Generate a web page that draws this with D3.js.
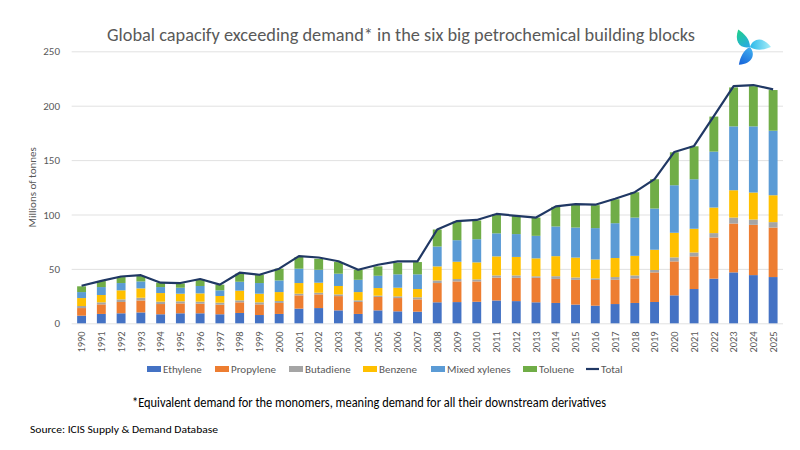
<!DOCTYPE html>
<html lang="en">
<head>
<meta charset="UTF-8">
<title>Global capacity exceeding demand</title>
<script src="https://d3js.org/d3.v7.min.js"></script>
<style>
  body { margin: 0; background: #fff; }
  svg { display: block; font-family: Carlito, Lato, "Open Sans", sans-serif; }
</style>
</head>
<body>
<div id="chart"></div>
<script>

// values, million tonnes
const years = ["1990","1991","1992","1993","1994","1995","1996","1997","1998","1999",
  "2000","2001","2002","2003","2004","2005","2006","2007","2008","2009",
  "2010","2011","2012","2013","2014","2015","2016","2017","2018","2019",
  "2020","2021","2022","2023","2024","2025"];

const ethylene  = [7, 8.6, 9.2, 10, 8.3, 9.2, 9.2, 8.3, 9.5, 7.6,
  8.6, 13.5, 14, 11.9, 8.6, 11.9, 11, 10.7, 19.3, 19.5,
  19.8, 21, 20.4, 19.3, 18.7, 17.2, 16.2, 17.7, 18.7, 19.6,
  25.7, 31.5, 41, 46.8, 44.3, 42.5];
const propylene = [7, 8.8, 10.4, 11, 9.4, 9.1, 8.8, 8.8, 9.8, 9.8,
  10.1, 12.2, 12.6, 13.1, 11, 12.3, 12.2, 11.3, 17.7, 19,
  18.7, 21, 21.4, 22.5, 22.1, 22.7, 23.6, 22.3, 22.6, 27.2,
  31.2, 30, 37.9, 44.9, 46.2, 45.5];
const butadiene = [1.9, 1.9, 2.4, 2.5, 2.2, 1.9, 1.9, 1.9, 1.8, 1.9,
  1.8, 1.5, 1.5, 1.6, 1.5, 1.2, 1.6, 1.9, 2.4, 2.2,
  1.9, 2, 2.2, 1.4, 2.5, 2.2, 1.5, 2.5, 2.7, 2.2,
  3.7, 3.6, 4, 5.5, 4.9, 5];
const benzene   = [7.3, 6.7, 8.3, 8.6, 7.9, 7, 7.6, 6.1, 8.9, 7.9,
  8.2, 9.8, 9.2, 7.7, 7.6, 7, 7.9, 7.6, 12.9, 15.9,
  15.6, 17.5, 17, 16.5, 18.4, 18.3, 17.4, 17.5, 18, 18.6,
  22.6, 21.8, 23.5, 25.1, 24.8, 24.7];
const xylenes   = [5.5, 7.3, 6.7, 6.4, 5.5, 5.5, 6.8, 5.2, 8.2, 9.8,
  10.7, 13.2, 11.9, 11.3, 11.3, 11.3, 12.3, 13.5, 18.3, 19.8,
  21.3, 21.2, 21, 20.7, 27.3, 27.6, 28.8, 32, 35.2, 37.9,
  43.7, 45.5, 51.4, 58.7, 60.8, 59.3];
const toluene   = [5.3, 5.5, 5.5, 4.9, 4, 4, 6.4, 5.2, 7.4, 7.6,
  10.8, 10.7, 10.1, 10.7, 9.2, 8.6, 10.7, 11.3, 15.6, 17.1,
  17.2, 17.8, 16.8, 16.8, 18, 20.8, 21.1, 22, 23.3, 26.9,
  30.3, 30.3, 32.2, 35.8, 37, 37.4];
const total     = [34.5, 39, 43, 44.2, 37.3, 37, 40.7, 35.5, 46.5, 44.6,
  50.2, 61.8, 60.5, 57, 49.2, 53.8, 56.9, 56.9, 86.2, 94,
  95, 100.5, 98.8, 97.2, 107.5, 109.5, 109, 114.5, 120.5, 132.5,
  157.5, 163, 190.5, 218, 219, 215];

const seriesNames = ["Ethylene", "Propylene", "Butadiene", "Benzene", "Mixed xylenes", "Toluene"];
const seriesValues = [ethylene, propylene, butadiene, benzene, xylenes, toluene];
const seriesColors = ["#4472C4", "#ED7D31", "#A5A5A5", "#FFC000", "#5B9BD5", "#70AD47"];
const yTicks = [0, 50, 100, 150, 200, 250];

const titleText = "Global capacify exceeding demand* in the six big petrochemical building blocks";
const noteText = "*Equivalent demand for the monomers, meaning demand for all their downstream derivatives";
const sourceText = "Source: ICIS Supply & Demand Database";

let width = 800, height = 450;
let plotLeft = 71.7, plotRight = 783, plotTop = 51.3, plotBottom = 323.3;

let rows = years.map(function (y, i) {
  let r = { year: y };
  seriesNames.forEach(function (s, k) { r[s] = seriesValues[k][i]; });
  return r;
});

let stacked = d3.stack().keys(seriesNames)(rows);

let xScale = d3.scaleBand().domain(years).range([plotLeft, plotRight])
  .paddingInner(0.55).paddingOuter(0.275);
let yScale = d3.scaleLinear().domain([0, 250]).range([plotBottom, plotTop]);

let svg = d3.select("#chart").append("svg")
  .attr("width", width)
  .attr("height", height);

svg.append("rect").attr("width", width).attr("height", height).attr("fill", "#fff");

// title
svg.append("text")
  .attr("x", 107).attr("y", 41)
  .attr("textLength", 588).attr("lengthAdjust", "spacingAndGlyphs")
  .style("font-size", "18.5px")
  .style("fill", "#595959")
  .text(titleText);

// gridlines
let yAxis = d3.axisLeft(yScale).tickValues(yTicks)
  .tickSize(-(plotRight - plotLeft)).tickPadding(12);
let gy = svg.append("g").attr("transform", `translate(${plotLeft},0)`).call(yAxis);
gy.select(".domain").remove();
gy.selectAll(".tick line").attr("stroke", "#d9d9d9").attr("stroke-width", 0.8);
gy.selectAll(".tick text")
  .attr("x", 60 - plotLeft)
  .style("font-size", "11px")
  .style("font-family", "Carlito, Lato, 'Open Sans', sans-serif")
  .style("fill", "#595959");

svg.append("text")
  .attr("transform", `translate(36,${(plotTop + plotBottom) / 2}) rotate(-90)`)
  .attr("text-anchor", "middle")
  .style("font-size", "11px")
  .style("fill", "#595959")
  .text("Millions of tonnes");

// stacked bars
svg.append("g").selectAll("g")
  .data(stacked)
  .join("g")
  .attr("fill", function (d, i) { return seriesColors[i]; })
  .selectAll("rect")
  .data(function (d) { return d; })
  .join("rect")
  .attr("x", function (d) { return xScale(d.data.year); })
  .attr("width", xScale.bandwidth())
  .attr("y", function (d) { return yScale(d[1]); })
  .attr("height", function (d) { return yScale(d[0]) - yScale(d[1]); });

// total line
let line = d3.line()
  .x(function (d, i) { return xScale(years[i]) + xScale.bandwidth() / 2; })
  .y(function (d) { return yScale(d); });
svg.append("path")
  .datum(total)
  .attr("d", line)
  .attr("fill", "none")
  .attr("stroke", "#203864")
  .attr("stroke-width", 2.2)
  .attr("stroke-linejoin", "round");

// x axis labels
let xAxis = d3.axisBottom(xScale).tickSize(0).tickPadding(0);
let gx = svg.append("g").attr("transform", `translate(0,${plotBottom})`).call(xAxis);
gx.select(".domain").remove();
gx.selectAll(".tick text")
  .attr("transform", "translate(0,8) rotate(-90)")
  .attr("text-anchor", "end")
  .attr("x", 0).attr("y", 0).attr("dy", "0.35em")
  .style("font-size", "10.5px")
  .style("font-family", "Carlito, Lato, 'Open Sans', sans-serif")
  .style("fill", "#595959");

// legend
let legendX = [163, 231, 305, 379, 447, 539, 601];
let legendY = 369;
let legend = svg.append("g");
seriesNames.forEach(function (s, i) {
  legend.append("rect")
    .attr("x", legendX[i] - 16).attr("y", legendY - 3)
    .attr("width", 14).attr("height", 6)
    .attr("fill", seriesColors[i]);
  legend.append("text")
    .attr("x", legendX[i]).attr("y", legendY).attr("dy", "0.35em")
    .style("font-size", "11px").style("fill", "#595959")
    .text(s);
});
legend.append("line")
  .attr("x1", legendX[6] - 15).attr("x2", legendX[6] - 2)
  .attr("y1", legendY).attr("y2", legendY)
  .attr("stroke", "#203864").attr("stroke-width", 2.2);
legend.append("text")
  .attr("x", legendX[6]).attr("y", legendY).attr("dy", "0.35em")
  .style("font-size", "11px").style("fill", "#595959")
  .text("Total");

// footnote + source
svg.append("text")
  .attr("x", 132).attr("y", 407)
  .attr("textLength", 474).attr("lengthAdjust", "spacingAndGlyphs")
  .style("font-size", "13.5px").style("fill", "#000")
  .text(noteText);
svg.append("text")
  .attr("x", 30).attr("y", 433)
  .attr("textLength", 188).attr("lengthAdjust", "spacingAndGlyphs")
  .style("font-size", "11px").style("fill", "#000")
  .text(sourceText);

// logo, top right
let defs = svg.append("defs");
let grads = [["lg1", "#1fd08a", "#28a8e8"], ["lg2", "#a8eef8", "#2ab8ea"], ["lg3", "#1560d8", "#40b0f0"]];
grads.forEach(function (g) {
  let lg = defs.append("linearGradient").attr("id", g[0])
    .attr("x1", "1").attr("y1", "0").attr("x2", "0").attr("y2", "0");
  lg.append("stop").attr("offset", "0").attr("stop-color", g[1]);
  lg.append("stop").attr("offset", "1").attr("stop-color", g[2]);
});
let logo = svg.append("g").attr("transform", "translate(750,47)");
[[-124, "lg1"], [0, "lg2"], [122, "lg3"]].forEach(function (p) {
  logo.append("path")
    .attr("d", "M0,0 C3,-9 13,-11 21,0 C14,3 6,4 0,0 Z")
    .attr("transform", `rotate(${p[0]})`)
    .attr("fill", `url(#${p[1]})`);
});

</script>
</body>
</html>
